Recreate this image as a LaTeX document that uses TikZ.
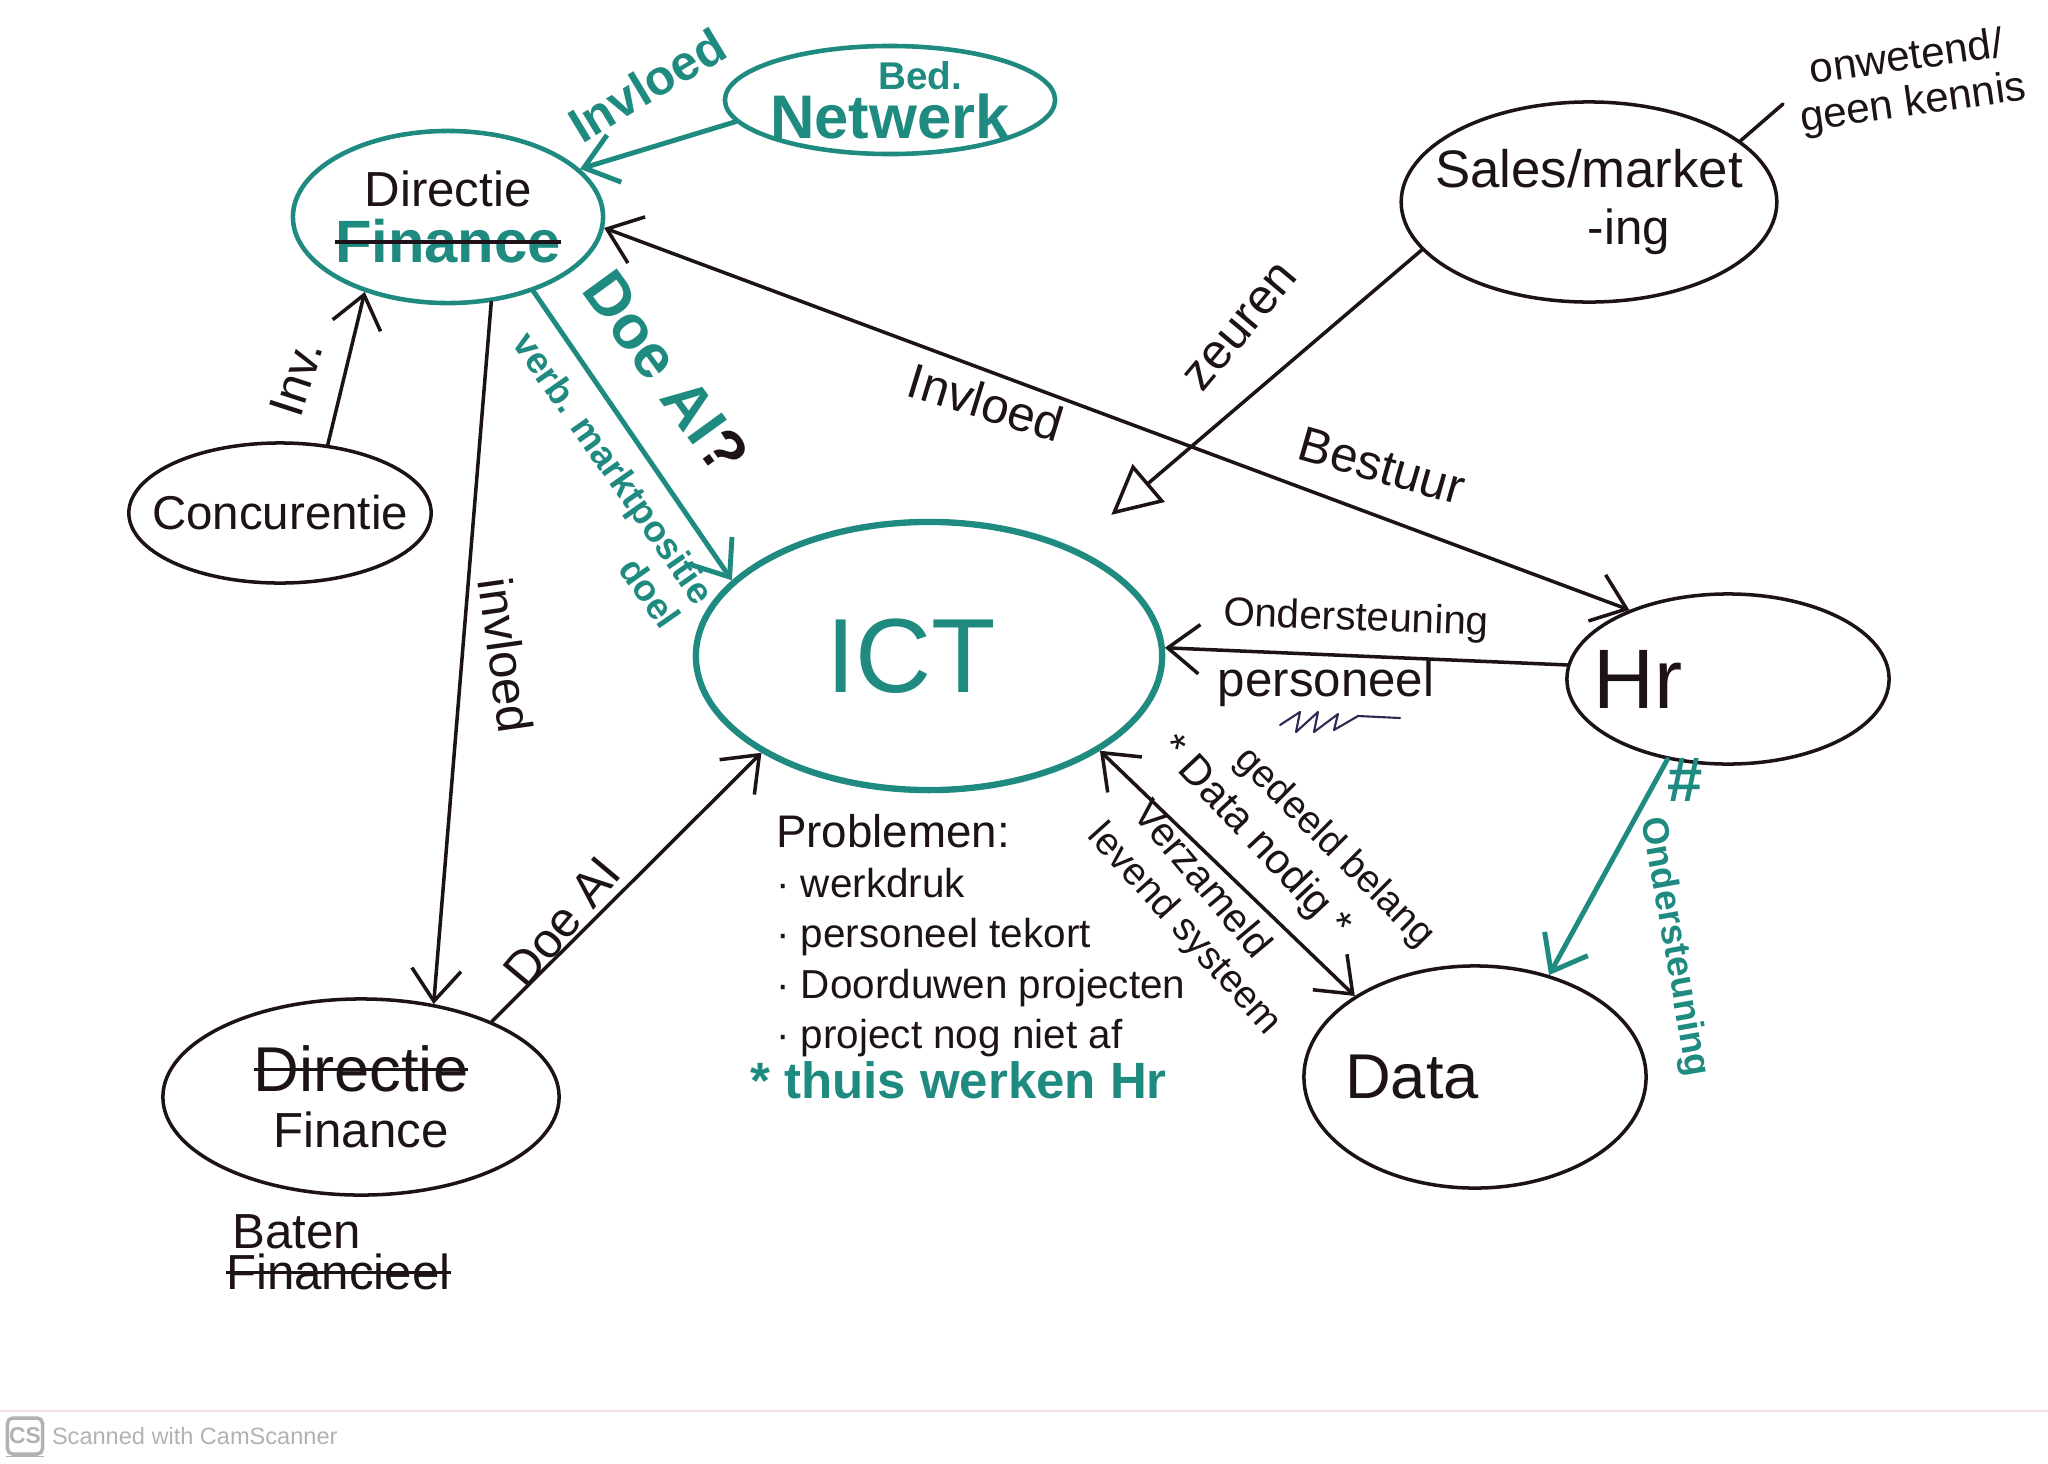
\documentclass[tikz,border=0pt]{standalone}
\usepackage{fontspec}
\setmainfont{Liberation Sans}
\usetikzlibrary{arrows.meta,shapes.geometric}
\definecolor{ink}{HTML}{1C1218}
\definecolor{marker}{HTML}{1E8A80}
\definecolor{scribble}{HTML}{2A2A55}
\definecolor{csgray}{HTML}{B2B2B2}
\definecolor{scanline}{HTML}{F3DCE8}
% struck-through word, the stroke in ink
\newsavebox{\strikebox}
\newcommand{\inkout}[1]{\sbox{\strikebox}{#1}\rlap{\usebox{\strikebox}}%
  \textcolor{ink}{\rule[0.32em]{\wd\strikebox}{0.9pt}}}
% text set off-centre inside its ellipse (shift to the left)
\newcommand{\offleft}[2]{\makebox[0pt]{\kern-#1 #2}}

\begin{document}
\begin{tikzpicture}[
  x=0.01cm, y=-0.01cm, line cap=round, line join=round,
  >={Straight Barb[length=9pt,width=14pt]},
  blob/.style ={ellipse, draw=ink, line width=1pt, inner sep=-6pt, text=ink,
                font=\fontsize{14}{16}\selectfont, align=center},
  tblob/.style={blob, draw=marker, line width=1.3pt},
  conn/.style ={ink, line width=1pt},
  tconn/.style={marker, line width=1.4pt},
  lbl/.style  ={ink, inner sep=1pt, font=\fontsize{14}{16}\selectfont, align=center},
  tlbl/.style ={lbl, text=marker, font=\bfseries\fontsize{14}{16}\selectfont},
  every node/.style={font=\fontsize{14}{16}\selectfont}
]

% --- paper
\fill[white] (0,0) rectangle (2048,1463);
\useasboundingbox (0,0) rectangle (2048,1463);

% --- departments
\node[tblob, minimum width=3.30cm, minimum height=1.08cm] (bednet) at (890,100)
  {\color{marker}\bfseries{\fontsize{11}{10}\selectfont\hspace*{0.6cm}Bed.}\\[-2pt]
   \color{marker}\bfseries\fontsize{17.5}{18}\selectfont Netwerk};
\node[tblob, minimum width=3.10cm, minimum height=1.72cm] (directie) at (448,217)
  {Directie\\{\color{marker}\bfseries\fontsize{17}{18}\selectfont\inkout{Finance}}};
\node[blob, minimum width=3.48cm, minimum height=2.00cm] (sales) at (1589,202)
  {\fontsize{15}{15}\selectfont Sales/market\\\hspace*{0.8cm}-ing};
\node[blob, minimum width=2.90cm, minimum height=1.40cm] (concurentie) at (280,513)
  {\fontsize{13.5}{14}\selectfont Concurentie};
\node[tblob, line width=1.8pt, minimum width=4.66cm, minimum height=2.68cm] (ict) at (929,656)
  {\color{marker}\fontsize{30}{30}\selectfont\offleft{0.36cm}{ICT}};
\node[blob, minimum width=3.22cm, minimum height=1.70cm] (hr) at (1728,679)
  {\fontsize{24}{24}\selectfont\offleft{1.8cm}{Hr}};
\node[blob, minimum width=3.42cm, minimum height=2.22cm] (data) at (1475,1077)
  {\fontsize{18}{18}\selectfont\offleft{1.26cm}{Data}};
\node[blob, minimum width=3.96cm, minimum height=1.96cm] (finance) at (361,1097)
  {\fontsize{18}{20}\selectfont\inkout{Directie}\\Finance};

% --- annotation at sales
\node[lbl, rotate=8, font=\fontsize{12}{13}\selectfont] (onwetend) at (1910,82)
  {onwetend/\\geen kennis};
\coordinate (onwetendtip) at (1783,104);
\draw[conn] (sales.22) -- (onwetendtip);

% --- connectors
\draw[tconn,->] (bednet.188) -- (directie.20);
\draw[conn,<->] (directie.-4) -- (hr.145);
\draw[conn,-{Triangle[open,length=14pt,width=14pt]}, shorten >=0.5cm] (sales.196) -- (ict.37);
\draw[tconn,->] (directie.-41) -- (ict.159);
\draw[conn,->] (concurentie.55) -- (directie.222);
\draw[conn,->] (directie.-63) -- (finance.52);
\draw[conn,->] (finance.30) -- (ict.210);
\draw[conn,->] (hr.175) -- (ict.2);
\draw[conn,<->] (ict.-29) -- (data.146);
\draw[tconn,->] (hr.233) -- (data.54);
\node[tlbl, font=\bfseries\fontsize{18}{18}\selectfont, yshift=-5pt] (hrmark) at (hr.243) {\#};

% --- connector labels
\node[tlbl, rotate=31] (invloednet) at (647,85) {Invloed};
\node[tlbl, rotate=-54, font=\bfseries\fontsize{17.5}{19}\selectfont] (doeai) at (666,372)
  {Doe AI\textcolor{ink}{?}};
\node[tlbl, rotate=-55, align=right, font=\bfseries\fontsize{10.5}{12}\selectfont] (marktpos) at (597,480)
  {verb. marktpositie\\doel};
\node[lbl, rotate=72] (inv) at (296,378) {Inv.};
\node[lbl, rotate=-82] (invloedfin) at (506,655) {invloed};
\node[lbl, rotate=-17] (invloedhr) at (986,402) {Invloed};
\node[lbl, rotate=-16] (bestuur) at (1382,466) {Bestuur};
\node[lbl, rotate=50] (zeuren) at (1241,327) {zeuren};
\node[lbl, rotate=-2, font=\fontsize{11.5}{13}\selectfont] (ondersteuning) at (1356,620) {Ondersteuning};
\node[lbl] (personeel) at (1326,684) {personeel};
\draw[scribble, line width=0.6pt] (1280,725) -- (1300,712) -- (1296,732) -- (1318,712)
  -- (1314,732) -- (1338,714) -- (1334,730) -- (1358,716) -- (1400,718);
\node[lbl, rotate=-45, font=\fontsize{11}{12}\selectfont] (belang) at (1334,848) {gedeeld belang};
\node[lbl, rotate=-47, font=\fontsize{12}{13}\selectfont] (datanodig) at (1254,838) {* Data nodig *};
\node[lbl, rotate=-50, font=\fontsize{11.5}{13}\selectfont] (verzameld) at (1204,878) {Verzameld};
\node[lbl, rotate=-48, font=\fontsize{11}{12}\selectfont] (systeem) at (1184,930) {levend systeem};
\node[tlbl, rotate=-80, font=\bfseries\fontsize{10.5}{12}\selectfont] (steunhr) at (1674,947) {Ondersteuning};
\node[lbl, rotate=50] (doeaifin) at (562,922) {Doe AI};

% --- problems under ICT
\node[lbl, anchor=north west, align=left, font=\fontsize{11.5}{14.3}\selectfont] (problemen) at (772,810)
  {{\fontsize{13}{14.3}\selectfont Problemen:}\\
   · werkdruk\\
   · personeel tekort\\
   · Doorduwen projecten\\
   · project nog niet af\\
   \hspace*{-0.26cm}{\color{marker}\bfseries\fontsize{14.5}{14.3}\selectfont * thuis werken Hr}};

% --- under finance
\node[lbl, anchor=west] (baten) at (228,1232) {Baten};
\node[lbl, anchor=west] (financieel) at (222,1272) {\inkout{Financieel}};

% --- scanner footer
\draw[scanline, line width=0.8pt] (0,1411) -- (2048,1411);
\node[draw=csgray, fill=white, line width=1pt, rounded corners=1.5pt, minimum width=0.35cm,
      minimum height=0.36cm, inner sep=0pt, text=csgray, font=\bfseries\fontsize{6.5}{6.5}\selectfont]
  (cslogo) at (25,1436) {CS};
\fill[csgray] (cslogo.south west) ++(0,-0.08) rectangle (cslogo.south east);
\node[anchor=west, text=csgray, font=\fontsize{6.7}{7}\selectfont, inner sep=2pt] (csname) at (cslogo.east)
  {Scanned with CamScanner};

\end{tikzpicture}
\end{document}
